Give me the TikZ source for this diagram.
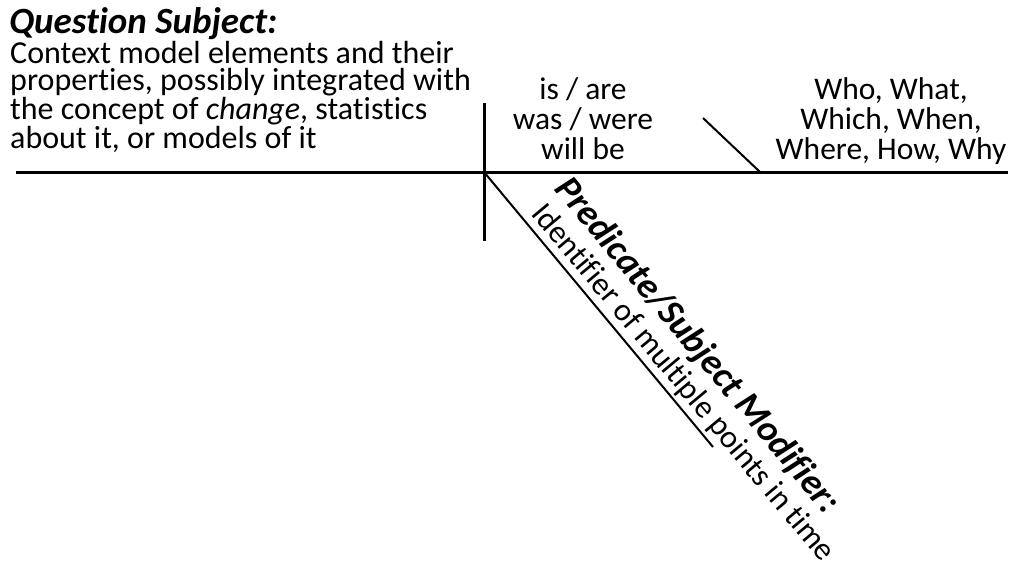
\documentclass[tikz,border=0pt]{standalone}
\usepackage{fontspec}
\setmainfont{Carlito}[Ligatures=NoCommon]
\usetikzlibrary{calc}
\begin{document}
\begin{tikzpicture}[x=1pt,y=-1pt,
  heavy/.style={line width=3pt},
  light/.style={line width=2pt},
  body/.style={font=\fontsize{32}{27.5}\selectfont, inner sep=0pt, align=left},
  verb/.style={font=\fontsize{31.5}{30}\selectfont, inner sep=0pt, align=center},
  slant/.style={font=\fontsize{32}{30}\selectfont, inner sep=0pt},
  head/.style={font=\fontsize{37}{40}\selectfont\bfseries\itshape, inner sep=0pt}]
\useasboundingbox (0,0) rectangle (1014,563);

% points of the diagram
\coordinate (L) at (16,172);
\coordinate (R) at (1008,172);
\coordinate (X) at (484,172);
\coordinate (Vt) at (484,103);
\coordinate (Vb) at (484,241);
\coordinate (Ss) at (703,118);
\coordinate (Se) at (760,172);
\coordinate (De) at (713,447);

% baseline, divider and modifier lines
\draw[heavy] (L) -- (R);
\draw[heavy] (Vt) -- (Vb);
\draw[light] (Ss) -- (Se);
\draw[light] (X) -- (De);

% subject
\node[head, anchor=base west] (qs) at (9,33) {Question Subject:};
\node[body, anchor=base west] (ctx) at (10,148.3)
  {Context model elements and their\\
   properties, possibly integrated with\\
   the concept of \textit{change}, statistics\\
   about it, or models of it};

% verb and complement
\node[verb, anchor=base] (vb) at (583,159.5) {is / are\\was / were\\will be};
\node[verb, anchor=base] (wh) at (891,159.5) {Who, What,\\Which, When,\\Where, How, Why};

% modifier text along the slanted line
\coordinate (pa) at ($(X)!58pt!(De)$);
\coordinate (pb) at ($(pa)!42pt!90:(De)$);
\coordinate (ia) at ($(X)!62pt!(De)$);
\coordinate (ib) at ($(ia)!9pt!90:(De)$);
\node[head, rotate=-50.2, anchor=base west] (pm) at (pb) {Predicate/Subject Modifier:};
\node[slant, rotate=-50.2, anchor=base west] (id) at (ib) {Identifier of multiple points in time};
\end{tikzpicture}
\end{document}
